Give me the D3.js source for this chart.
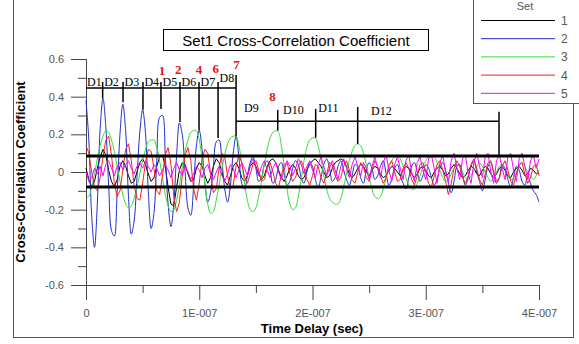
<!DOCTYPE html>
<html>
<head>
<meta charset="utf-8">
<script src="https://cdn.jsdelivr.net/npm/d3@7"></script>
<style>
body{margin:0;background:#fff;}
svg{display:block;font-family:"Liberation Sans",Arial,sans-serif;}
</style>
</head>
<body>
<script>
const WIDTH = 579;
const HEIGHT = 344;
const SERIF = '"Liberation Serif","Times New Roman",serif';

// samples every 2.5 ns, 0 .. 400 ns
var timeStep = 2.5e-9;

var set1 = [
 0.02,-0.04,-0.08,-0.05,0.02,0.08,0.12,0.09,0.01,-0.05,
 -0.08,-0.04,0.03,0.06,0.03,-0.02,-0.06,-0.05,0.00,0.05,
 0.07,0.04,-0.01,-0.05,-0.03,0.03,0.08,0.09,0.03,-0.08,
 -0.17,-0.18,-0.08,0.01,0.05,0.04,-0.01,-0.05,-0.04,0.02,
 0.05,0.03,-0.02,-0.06,-0.03,0.03,0.07,0.05,0.00,-0.05,
 -0.07,-0.02,0.03,0.05,0.02,-0.03,-0.05,-0.02,0.03,0.05,
 0.03,-0.01,-0.04,-0.02,0.03,0.06,0.07,0.05,0.01,-0.03,
 -0.05,-0.02,0.02,0.04,0.02,-0.02,-0.04,-0.03,0.01,0.04,
 0.06,0.07,0.05,0.03,0.00,-0.03,-0.02,0.02,0.05,0.06,
 0.07,0.06,0.03,-0.01,-0.03,-0.01,0.02,0.04,0.03,0.00,
 -0.02,0.01,0.03,0.02,-0.01,-0.03,-0.02,0.01,0.03,0.02,
 0.00,-0.02,0.01,0.03,0.02,-0.01,-0.03,-0.01,0.02,0.03,
 0.01,-0.02,-0.03,0.00,0.02,0.03,0.01,-0.02,-0.01,0.02,
 0.04,0.02,-0.01,-0.03,-0.02,0.01,0.03,0.02,-0.01,-0.02,
 0.01,0.03,0.02,-0.01,-0.03,-0.01,0.02,0.03,0.01,-0.02,
 -0.03,0.00,0.02,0.03,0.01,-0.02,-0.01,0.02,0.01,-0.01,
 0.00];

var set2 = [
 0.38,0.17,-0.23,-0.40,-0.17,0.23,0.39,0.24,-0.07,-0.31,
 -0.34,-0.11,0.20,0.36,0.22,-0.13,-0.33,-0.26,-0.03,0.21,
 0.33,0.21,-0.10,-0.30,-0.22,0.06,0.29,0.30,0.09,-0.17,
 -0.29,-0.17,0.09,0.26,0.20,0.00,-0.19,-0.23,-0.08,0.14,
 0.22,0.12,-0.06,-0.16,-0.11,0.03,0.16,0.17,0.06,-0.09,
 -0.16,-0.07,0.10,0.19,0.08,-0.06,-0.09,-0.02,0.05,0.08,
 0.02,-0.05,-0.03,0.04,0.06,0.01,-0.06,-0.04,0.03,0.05,
 -0.01,-0.07,-0.05,0.02,0.06,0.04,-0.03,-0.06,0.00,0.05,
 0.03,-0.04,-0.08,-0.03,0.04,0.07,0.02,-0.05,-0.03,0.03,
 0.06,0.01,-0.04,-0.07,-0.02,0.04,0.03,-0.03,-0.06,0.01,
 0.05,0.02,-0.04,-0.02,0.03,0.06,-0.01,-0.07,-0.04,0.02,
 0.04,-0.02,-0.06,-0.09,-0.03,0.03,0.05,0.00,-0.05,-0.02,
 0.04,0.02,-0.03,-0.07,-0.04,0.02,0.05,0.01,-0.06,-0.11,
 -0.05,0.03,0.04,-0.02,-0.07,-0.03,0.03,0.06,0.00,-0.05,
 -0.10,-0.04,0.03,0.05,-0.01,-0.06,-0.03,0.04,0.02,-0.04,
 -0.08,-0.03,0.03,0.01,-0.05,-0.07,-0.02,-0.06,-0.10,-0.12,
 -0.16];

var set3 = [
 -0.14,-0.13,-0.08,-0.01,0.07,0.14,0.19,0.22,0.21,0.17,
 0.11,0.03,-0.05,-0.12,-0.17,-0.19,-0.18,-0.14,-0.08,-0.01,
 0.06,0.12,0.16,0.17,0.17,0.13,0.06,-0.03,-0.12,-0.18,
 -0.21,-0.20,-0.15,-0.07,0.03,0.11,0.17,0.21,0.22,0.22,
 0.17,0.07,-0.06,-0.17,-0.22,-0.21,-0.15,-0.07,0.02,0.09,
 0.15,0.18,0.19,0.19,0.14,0.05,-0.06,-0.15,-0.20,-0.21,
 -0.19,-0.13,-0.05,0.04,0.12,0.18,0.21,0.22,0.21,0.14,
 0.03,-0.09,-0.17,-0.20,-0.19,-0.13,-0.04,0.06,0.13,0.17,
 0.18,0.18,0.14,0.07,-0.02,-0.09,-0.14,-0.16,-0.17,-0.17,
 -0.14,-0.08,-0.01,0.06,0.11,0.14,0.15,0.14,0.10,0.04,
 -0.03,-0.09,-0.13,-0.14,-0.13,-0.09,-0.03,0.02,0.06,0.08,
 0.09,0.07,0.03,-0.03,-0.07,-0.09,-0.09,-0.06,-0.02,0.03,
 0.06,0.08,0.08,0.08,0.05,0.01,-0.03,-0.05,-0.04,-0.01,
 0.02,0.04,0.03,0.00,-0.03,-0.04,-0.02,0.01,0.03,0.05,
 0.03,0.00,-0.03,-0.05,-0.03,0.00,0.03,0.04,0.02,-0.01,
 -0.04,-0.03,0.00,0.03,0.05,0.03,0.00,-0.02,-0.04,-0.02,
 0.01];

var set4 = [
 0.14,0.10,0.00,-0.08,-0.10,-0.03,0.08,0.17,0.19,0.09,
 -0.06,-0.13,-0.10,0.01,0.12,0.15,0.06,-0.07,-0.14,-0.15,
 -0.06,0.05,0.12,0.11,0.02,-0.10,-0.12,-0.02,0.09,0.13,
 0.04,-0.13,-0.21,-0.16,-0.02,0.09,0.13,0.06,-0.09,-0.15,
 -0.06,0.07,0.12,0.10,-0.01,-0.11,-0.09,0.02,0.10,0.08,
 -0.02,-0.09,-0.07,0.03,0.09,0.05,-0.03,-0.06,-0.01,0.04,
 0.06,0.01,-0.05,-0.04,0.02,0.05,0.00,-0.06,-0.08,-0.02,
 0.04,0.05,-0.01,-0.05,-0.03,0.03,0.06,0.02,-0.04,-0.07,
 -0.02,0.04,0.03,-0.03,-0.06,-0.01,0.05,0.04,-0.02,-0.05,
 -0.03,0.03,0.06,0.01,-0.04,-0.06,0.00,0.05,0.03,-0.03,
 -0.05,0.01,0.06,0.03,-0.02,-0.06,-0.03,0.04,0.06,0.00,
 -0.05,-0.04,0.02,0.05,0.02,-0.04,-0.07,-0.02,0.04,0.05,
 0.00,-0.06,-0.08,-0.02,0.04,0.06,0.01,-0.05,-0.12,-0.06,
 0.02,0.06,0.03,-0.03,-0.06,-0.02,0.04,0.07,0.02,-0.04,
 -0.07,-0.01,0.05,0.06,0.00,-0.05,-0.03,0.03,0.06,0.01,
 -0.05,-0.07,-0.01,0.04,0.05,-0.01,-0.06,-0.03,0.03,0.04,
 -0.02];

var set5 = [
 0.00,-0.05,-0.03,0.02,-0.01,0.03,-0.02,0.04,0.06,0.02,
 -0.02,0.03,0.05,0.01,0.04,0.06,0.02,-0.01,0.03,0.05,
 0.02,0.06,0.03,0.00,0.04,0.02,-0.02,0.01,0.04,0.01,
 -0.03,0.02,0.05,0.01,-0.02,0.03,0.00,-0.04,-0.01,0.03,
 0.01,-0.03,0.02,0.04,-0.01,-0.04,0.00,0.03,-0.02,-0.05,
 -0.01,0.04,0.02,-0.03,0.01,0.05,0.02,-0.02,0.04,0.07,
 0.02,-0.02,0.03,0.06,0.01,-0.03,0.02,0.05,0.00,-0.04,
 0.01,0.06,0.03,-0.02,0.02,0.07,0.04,-0.01,0.03,0.06,
 0.01,-0.03,0.04,0.08,0.03,-0.02,0.02,0.06,0.01,-0.04,
 0.03,0.07,0.02,-0.03,0.04,0.08,0.03,-0.02,0.05,0.02,
 -0.04,0.03,0.08,0.02,-0.03,0.05,0.09,0.01,-0.05,0.04,
 0.08,0.02,-0.04,0.06,0.09,0.00,-0.05,0.05,0.08,0.01,
 -0.04,0.07,0.09,0.02,-0.06,0.05,0.09,0.00,-0.05,0.06,
 0.10,0.02,-0.04,0.07,0.09,-0.01,-0.06,0.05,0.10,0.03,
 -0.03,0.08,0.10,0.00,-0.06,0.06,0.09,0.02,-0.04,0.08,
 0.10,0.01,-0.05,0.07,0.10,0.03,-0.04,0.06,0.09,0.02,
 0.07];

var seriesNames = ["1","2","3","4","5"];
var seriesColors = ["#000000","#1f2fd0","#33dd33","#ff1f1f","#ff00ff"];

// significance lines
var thresholds = [0.085,-0.08];

var yMajor = [-0.6,-0.4,-0.2,0,0.2,0.4,0.6];
var yMinor = [-0.5,-0.3,-0.1,0.1,0.3,0.5];
var xMajor = [0,1e-7,2e-7,3e-7,4e-7];
var xTickLabels = ["0","1E-007","2E-007","3E-007","4E-007"];
var xMinor = [0.5e-7,1.5e-7,2.5e-7,3.5e-7];

// peak markers, first group
var dNames1 = ["D1","D2","D3","D4","D5","D6","D7","D8"];
var dTimes1 = [1.47e-8,3.27e-8,5.03e-8,6.62e-8,8.30e-8,9.98e-8,1.166e-7,1.325e-7];
var dPeaks1 = [0.39,0.37,0.33,0.335,0.265,0.22,0.18,0.19];
var bracket1 = 0.446;
// second group
var dNames2 = ["D9","D10","D11","D12"];
var dLabelTimes2 = [1.395e-7,1.74e-7,2.05e-7,2.517e-7];
var dLabelVals2 = [0.319,0.308,0.319,0.303];
var dTimes2 = [1.693e-7,2.028e-7,2.399e-7,3.647e-7];
var dTops2 = [0.33,0.335,0.345,0.32];
var dPeaks2 = [0.22,0.182,0.149,0.09];
var bracket2 = 0.27;
// red mode numbers
var modeNames = ["1","2","4","6","7","8"];
var modeTimes = [6.7e-8,8.15e-8,9.98e-8,1.146e-7,1.33e-7,1.647e-7];
var modeVals = [0.515,0.52,0.52,0.525,0.545,0.377];

var svg = d3.select('body').append('svg')
	.attr('width', WIDTH)
	.attr('height', HEIGHT);

var x = d3.scaleLinear().domain([0,4e-7]).range([86,539]);
var y = d3.scaleLinear().domain([-0.6,0.6]).range([285,59]);

// outer frame
svg.append('rect')
	.attr('x',13.5).attr('y',-5)
	.attr('width',560).attr('height',342.5)
	.style('fill','none').style('stroke','#555');

// axes
var yAxis = d3.axisLeft(y).tickValues(yMajor).tickSize(15).tickSizeOuter(0).tickPadding(7)
	.tickFormat(function(d){ return d===0 ? '0' : d.toFixed(1); });
var yAxisMinor = d3.axisLeft(y).tickValues(yMinor).tickSize(8).tickSizeOuter(0).tickFormat('');
var xAxis = d3.axisBottom(x).tickValues(xMajor).tickSize(15).tickSizeOuter(0).tickPadding(9)
	.tickFormat(function(d,i){ return xTickLabels[i]; });
var xAxisMinor = d3.axisBottom(x).tickValues(xMinor).tickSize(8).tickSizeOuter(0).tickFormat('');

function styleAxis(g){
	g.selectAll('path,line').style('stroke','#444');
	g.selectAll('text').style('fill','#555').style('font-size','11px')
		.style('font-family','"Liberation Sans",Arial,sans-serif');
}

svg.append('g').attr('transform','translate(86,0)').call(yAxis).call(styleAxis);
svg.append('g').attr('transform','translate(86,0)').call(yAxisMinor).call(styleAxis);
svg.append('g').attr('transform','translate(0,285)').call(xAxis).call(styleAxis);
svg.append('g').attr('transform','translate(0,285)').call(xAxisMinor).call(styleAxis);

// series
var allSets = [set1,set2,set3,set4,set5];
var smooth = [false,true,true,false,false];
allSets.forEach(function(values,k){
	var line = d3.line()
		.x(function(d,i){ return x(i*timeStep); })
		.y(function(d){ return y(d); })
		.curve(smooth[k] ? d3.curveCatmullRom.alpha(0.5) : d3.curveLinear);
	svg.append('path')
		.datum(values)
		.attr('d',line)
		.style('fill','none')
		.style('stroke',seriesColors[k])
		.style('stroke-width',1);
});

// significance lines
svg.selectAll('.thr').data(thresholds).enter().append('line')
	.attr('x1',x(0)).attr('x2',x(4e-7))
	.attr('y1',function(d){ return y(d); })
	.attr('y2',function(d){ return y(d); })
	.style('stroke','#000').style('stroke-width',3);

// brackets
var ann = svg.append('g').style('stroke','#000').style('stroke-width',1.5);
ann.append('line')
	.attr('x1',x(0)).attr('x2',x(dTimes1[7]))
	.attr('y1',y(bracket1)).attr('y2',y(bracket1));
dTimes1.forEach(function(t,i){
	ann.append('line')
		.attr('x1',x(t)).attr('x2',x(t))
		.attr('y1',y(i===7 ? 0.515 : 0.478)).attr('y2',y(dPeaks1[i]));
});
ann.append('line')
	.attr('x1',x(dTimes1[7])).attr('x2',x(dTimes2[3]))
	.attr('y1',y(bracket2)).attr('y2',y(bracket2));
dTimes2.forEach(function(t,i){
	ann.append('line')
		.attr('x1',x(t)).attr('x2',x(t))
		.attr('y1',y(dTops2[i])).attr('y2',y(dPeaks2[i]));
});

// D labels
dNames1.forEach(function(name,i){
	var left = i===0 ? x(0)+1 : x(dTimes1[i-1])+1.5;
	svg.append('text')
		.attr('x',left)
		.attr('y',y(i===7 ? 0.478 : 0.459))
		.style('font-family',SERIF).style('font-size','12px')
		.text(name);
});
dNames2.forEach(function(name,i){
	svg.append('text')
		.attr('x',x(dLabelTimes2[i]))
		.attr('y',y(dLabelVals2[i]))
		.style('font-family',SERIF).style('font-size','12px')
		.text(name);
});
modeNames.forEach(function(name,i){
	svg.append('text')
		.attr('x',x(modeTimes[i]))
		.attr('y',y(modeVals[i]))
		.attr('text-anchor','middle')
		.style('font-family',SERIF).style('font-size','13px')
		.style('font-weight','bold').style('fill','#ee1111')
		.text(name);
});

// title
svg.append('rect')
	.attr('x',163.5).attr('y',29.5).attr('width',265).attr('height',21)
	.style('fill','#fff').style('stroke','#000');
svg.append('text')
	.attr('x',296).attr('y',45.5)
	.attr('text-anchor','middle')
	.style('font-size','15px')
	.text('Set1 Cross-Correlation Coefficient');

// axis titles
svg.append('text')
	.attr('x',312).attr('y',333)
	.attr('text-anchor','middle')
	.style('font-size','13px').style('font-weight','bold')
	.text('Time Delay (sec)');
svg.append('text')
	.attr('transform','translate(25,172) rotate(-90)')
	.attr('text-anchor','middle')
	.style('font-size','13px').style('font-weight','bold')
	.text('Cross-Correlation Coefficient');

// legend
var legend = svg.append('g');
legend.append('rect')
	.attr('x',473.5).attr('y',-5).attr('width',130).attr('height',108.5)
	.style('fill','#fff').style('stroke','#555');
legend.append('text')
	.attr('x',525).attr('y',10)
	.attr('text-anchor','middle')
	.style('font-size','11px').style('fill','#555')
	.text('Set');
seriesNames.forEach(function(name,i){
	var ly = 20.5 + i*18.2;
	legend.append('line')
		.attr('x1',481).attr('x2',555)
		.attr('y1',ly).attr('y2',ly)
		.style('stroke',seriesColors[i]).style('stroke-width',1);
	legend.append('text')
		.attr('x',561).attr('y',ly+4.5)
		.style('font-size','12px').style('fill','#555')
		.text(name);
});
</script>
</body>
</html>
